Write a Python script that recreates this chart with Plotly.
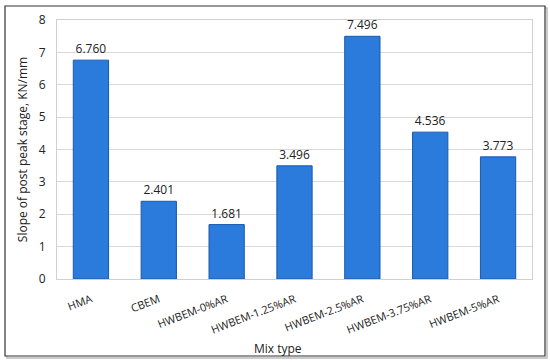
import plotly.graph_objects as go

categories = ["HMA", "CBEM", "HWBEM-0%AR", "HWBEM-1.25%AR", "HWBEM-2.5%AR", "HWBEM-3.75%AR", "HWBEM-5%AR"]
slopes = [6.760, 2.401, 1.681, 3.496, 7.496, 4.536, 3.773]
y_ticks = [0, 1, 2, 3, 4, 5, 6, 7, 8]

font_family = "Open Sans, Noto Sans, Liberation Sans, sans-serif"

fig = go.Figure()
fig.add_trace(go.Bar(
    x=categories, y=slopes,
    marker=dict(color="#2a7bdc", line=dict(color="#1a58ac", width=1)),
    texttemplate="%{y:.3f}", textposition="outside",
    textfont=dict(size=12, color="#222222", family=font_family),
    cliponaxis=False,
))

L, R, T, B = 57, 18, 20, 83
W, H = 550, 362
pw, ph = W - L - R, H - T - B

fig.update_layout(
    width=W, height=H,
    margin=dict(l=L, r=R, t=T, b=B, autoexpand=False),
    paper_bgcolor="white", plot_bgcolor="white",
    bargap=0.48,
    showlegend=False,
    font=dict(family=font_family, size=12, color="#222222"),
    xaxis=dict(
        tickangle=-21, showline=True, linecolor="#d0d0d0", mirror=True,
        tickfont=dict(size=11, color="#222222"), automargin=False,
        ticks="", ticklabelstandoff=9,
    ),
    yaxis=dict(
        range=[0, 8], tickvals=y_ticks, showgrid=True, gridcolor="#d9d9d9",
        showline=True, linecolor="#d0d0d0", mirror=True, zeroline=False,
        tickfont=dict(size=12, color="#222222"), automargin=False,
        title=dict(text="Slope of post peak stage, KN/mm", font=dict(size=12), standoff=8),
        ticks="", ticklabelstandoff=8,
    ),
    annotations=[dict(
        text="Mix type", xref="paper", yref="paper",
        x=(278 - L) / pw, y=(T + ph - 348) / ph, xanchor="center", yanchor="middle",
        showarrow=False, font=dict(size=12, color="#222222"),
    )],
    shapes=[
        dict(
            type="rect", xref="paper", yref="paper",
            x0=(7 - L) / pw, x1=(547 - L) / pw,
            y0=(T + ph - 358) / ph, y1=1 + (T - 8) / ph,
            line=dict(color="#bbbbbb", width=1.5), fillcolor="rgba(0,0,0,0)", layer="below",
        ),
        dict(
            type="rect", xref="paper", yref="paper",
            x0=(5 - L) / pw, x1=(545 - L) / pw,
            y0=(T + ph - 356) / ph, y1=1 + (T - 6) / ph,
            line=dict(color="#333333", width=1.2), fillcolor="white", layer="below",
        ),
    ],
)

fig.write_html("out.html", config={"displayModeBar": False},
               post_script="document.body.style.margin='0';")
